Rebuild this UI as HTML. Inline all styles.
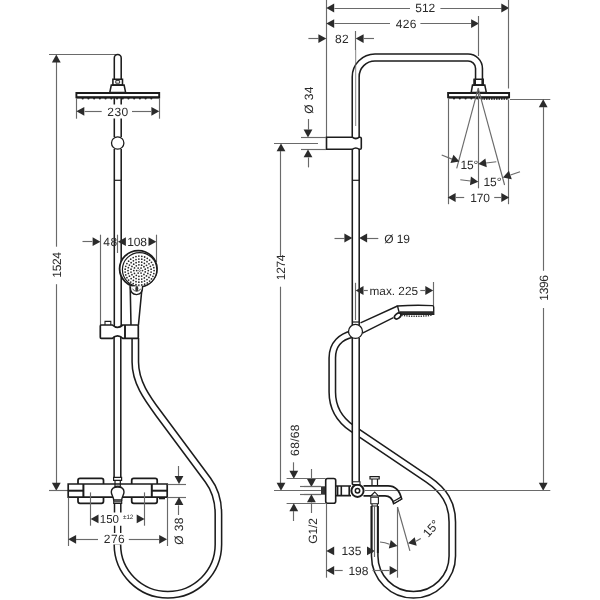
<!DOCTYPE html>
<html><head><meta charset="utf-8"><title>diagram</title>
<style>
html,body{margin:0;padding:0;background:#fff;}
body{width:600px;height:600px;overflow:hidden;}
svg{display:block;font-family:"Liberation Sans",sans-serif;text-rendering:geometricPrecision;}
</style></head><body>
<svg width="600" height="600" viewBox="0 0 600 600" style="filter:grayscale(1) blur(0.35px)">
<rect width="600" height="600" fill="#fff"/>
<path d="M135.3,338 L135.3,362 C135.3,382 146.9,398 158.8,414 L207.9,480 C215.1,489.6 218.4,500 218.4,514 L218.4,544.6 A50.5,50.2 0 0 1 117.4,544.6" stroke="#1c1c1c" stroke-width="8.0" fill="none" stroke-linecap="butt"/>
<path d="M135.3,338 L135.3,362 C135.3,382 146.9,398 158.8,414 L207.9,480 C215.1,489.6 218.4,500 218.4,514 L218.4,544.6 A50.5,50.2 0 0 1 117.4,544.6" stroke="#fff" stroke-width="4.9" fill="none" stroke-linecap="butt"/>
<line x1="49" y1="54.5" x2="116" y2="54.5" stroke="#6a6a6a" stroke-width="1.15" />
<line x1="56.5" y1="62" x2="56.5" y2="246.7" stroke="#6a6a6a" stroke-width="1.15" />
<line x1="56.5" y1="284.2" x2="56.5" y2="483" stroke="#6a6a6a" stroke-width="1.15" />
<polygon points="56.30,54.50 60.70,62.40 51.90,62.40" fill="#2b2b2b"/>
<polygon points="56.30,490.70 51.90,482.80 60.70,482.80" fill="#2b2b2b"/>
<line x1="49" y1="490.5" x2="68" y2="490.5" stroke="#6a6a6a" stroke-width="1.15" />
<text x="61" y="265" font-size="12" letter-spacing="-0.35" text-anchor="middle" fill="#2a2a2a" transform="rotate(-90 61 265)" >1524</text>
<path d="M114.3,79 L114.3,58 A3.45,3.45 0 0 1 121.2,58 L121.2,79" stroke="#1c1c1c" stroke-width="1.55" fill="none" />
<path d="M112.9,79.2 H122.5 V85 H112.9 Z" stroke="#1c1c1c" stroke-width="1.55" fill="none" />
<path d="M115.8,80.6 H119.6 V83.2 H115.8 Z" stroke="#1c1c1c" stroke-width="0.9" fill="none" />
<path d="M111.3,85.1 L124.1,85.1 L125.6,92.4 L109.8,92.4 Z" stroke="#1c1c1c" stroke-width="1.55" fill="none" />
<path d="M76.4,93.05 H159.2 V97.3 H76.4 Z" stroke="#1c1c1c" stroke-width="1.9" fill="#fff" />
<line x1="76.4" y1="97.6" x2="159.2" y2="97.6" stroke="#1c1c1c" stroke-width="1.6" />
<g fill="#222"><circle cx="82.70" cy="98.5" r="1.05"/><circle cx="88.42" cy="98.5" r="1.05"/><circle cx="94.14" cy="98.5" r="1.05"/><circle cx="99.86" cy="98.5" r="1.05"/><circle cx="105.58" cy="98.5" r="1.05"/><circle cx="111.30" cy="98.5" r="1.05"/><circle cx="117.02" cy="98.5" r="1.05"/><circle cx="122.74" cy="98.5" r="1.05"/><circle cx="128.46" cy="98.5" r="1.05"/><circle cx="134.18" cy="98.5" r="1.05"/><circle cx="139.90" cy="98.5" r="1.05"/><circle cx="145.62" cy="98.5" r="1.05"/><circle cx="151.34" cy="98.5" r="1.05"/></g>
<line x1="76.5" y1="98" x2="76.5" y2="118.7" stroke="#6a6a6a" stroke-width="1.15" />
<line x1="159.5" y1="98" x2="159.5" y2="118.7" stroke="#6a6a6a" stroke-width="1.15" />
<polygon points="76.40,111.30 84.30,106.90 84.30,115.70" fill="#2b2b2b"/>
<polygon points="159.30,111.30 151.40,115.70 151.40,106.90" fill="#2b2b2b"/>
<line x1="84.6" y1="111.5" x2="101.7" y2="111.5" stroke="#6a6a6a" stroke-width="1.15" />
<line x1="132" y1="111.5" x2="151" y2="111.5" stroke="#6a6a6a" stroke-width="1.15" />
<text x="117.9" y="115.7" font-size="12" letter-spacing="0.35" text-anchor="middle" fill="#2a2a2a" >230</text>
<line x1="114.3" y1="98" x2="114.3" y2="104.5" stroke="#1c1c1c" stroke-width="1.55" />
<line x1="114.3" y1="118.5" x2="114.3" y2="137" stroke="#1c1c1c" stroke-width="1.55" />
<line x1="114.3" y1="149" x2="114.3" y2="326" stroke="#1c1c1c" stroke-width="1.55" />
<line x1="121.2" y1="98" x2="121.2" y2="104.5" stroke="#1c1c1c" stroke-width="1.55" />
<line x1="121.2" y1="118.5" x2="121.2" y2="137" stroke="#1c1c1c" stroke-width="1.55" />
<line x1="121.2" y1="149" x2="121.2" y2="326" stroke="#1c1c1c" stroke-width="1.55" />
<circle cx="117.7" cy="143" r="6.2" fill="#fff" stroke="#1c1c1c" stroke-width="1.3"/>
<line x1="114.3" y1="180.3" x2="121.2" y2="180.3" stroke="#1c1c1c" stroke-width="1.2" />
<line x1="82.5" y1="241.5" x2="92.3" y2="241.5" stroke="#6a6a6a" stroke-width="1.15" />
<polygon points="100.50,241.70 92.60,246.10 92.60,237.30" fill="#2b2b2b"/>
<line x1="100.5" y1="234.7" x2="100.5" y2="325" stroke="#6a6a6a" stroke-width="1.15" />
<text x="110.4" y="246" font-size="12" letter-spacing="0.35" text-anchor="middle" fill="#2a2a2a" >48</text>
<line x1="117.5" y1="234.7" x2="117.5" y2="253" stroke="#6a6a6a" stroke-width="1.15" />
<polygon points="118.00,241.70 125.90,237.30 125.90,246.10" fill="#2b2b2b"/>
<text x="137" y="246" font-size="12" letter-spacing="-0.1" text-anchor="middle" fill="#2a2a2a" >108</text>
<polygon points="156.40,241.70 148.50,246.10 148.50,237.30" fill="#2b2b2b"/>
<line x1="156.5" y1="234.7" x2="156.5" y2="262" stroke="#6a6a6a" stroke-width="1.15" />
<path d="M130.2,286 L131,325.5 M142.2,286 L138.4,325.5" stroke="#1c1c1c" stroke-width="1.55" fill="none" />
<ellipse cx="138.3" cy="268.8" rx="18.7" ry="18.2" fill="#fff" stroke="#1c1c1c" stroke-width="1.8"/>
<ellipse cx="139.6" cy="269.6" rx="17.2" ry="17" fill="#fff" stroke="#1c1c1c" stroke-width="1.2"/>
<g fill="#2b2b2b"><circle cx="142.50" cy="270.60" r="0.88"/><circle cx="141.05" cy="273.11" r="0.88"/><circle cx="138.15" cy="273.11" r="0.88"/><circle cx="136.70" cy="270.60" r="0.88"/><circle cx="138.15" cy="268.09" r="0.88"/><circle cx="141.05" cy="268.09" r="0.88"/><circle cx="145.23" cy="271.99" r="0.88"/><circle cx="143.94" cy="274.45" r="0.88"/><circle cx="141.66" cy="276.02" r="0.88"/><circle cx="138.90" cy="276.36" r="0.88"/><circle cx="136.31" cy="275.37" r="0.88"/><circle cx="134.46" cy="273.30" r="0.88"/><circle cx="133.80" cy="270.60" r="0.88"/><circle cx="134.46" cy="267.90" r="0.88"/><circle cx="136.31" cy="265.83" r="0.88"/><circle cx="138.90" cy="264.84" r="0.88"/><circle cx="141.66" cy="265.18" r="0.88"/><circle cx="143.94" cy="266.75" r="0.88"/><circle cx="145.23" cy="269.21" r="0.88"/><circle cx="148.30" cy="270.60" r="0.88"/><circle cx="147.83" cy="273.42" r="0.88"/><circle cx="146.47" cy="275.94" r="0.88"/><circle cx="144.36" cy="277.88" r="0.88"/><circle cx="141.74" cy="279.03" r="0.88"/><circle cx="138.88" cy="279.27" r="0.88"/><circle cx="136.11" cy="278.57" r="0.88"/><circle cx="133.71" cy="277.00" r="0.88"/><circle cx="131.95" cy="274.74" r="0.88"/><circle cx="131.02" cy="272.03" r="0.88"/><circle cx="131.02" cy="269.17" r="0.88"/><circle cx="131.95" cy="266.46" r="0.88"/><circle cx="133.71" cy="264.20" r="0.88"/><circle cx="136.11" cy="262.63" r="0.88"/><circle cx="138.88" cy="261.93" r="0.88"/><circle cx="141.74" cy="262.17" r="0.88"/><circle cx="144.36" cy="263.32" r="0.88"/><circle cx="146.47" cy="265.26" r="0.88"/><circle cx="147.83" cy="267.78" r="0.88"/><circle cx="151.11" cy="272.05" r="0.88"/><circle cx="150.39" cy="274.87" r="0.88"/><circle cx="148.98" cy="277.42" r="0.88"/><circle cx="146.99" cy="279.54" r="0.88"/><circle cx="144.54" cy="281.10" r="0.88"/><circle cx="141.77" cy="281.99" r="0.88"/><circle cx="138.87" cy="282.18" r="0.88"/><circle cx="136.02" cy="281.63" r="0.88"/><circle cx="133.38" cy="280.39" r="0.88"/><circle cx="131.14" cy="278.54" r="0.88"/><circle cx="129.43" cy="276.19" r="0.88"/><circle cx="128.36" cy="273.48" r="0.88"/><circle cx="128.00" cy="270.60" r="0.88"/><circle cx="128.36" cy="267.72" r="0.88"/><circle cx="129.43" cy="265.01" r="0.88"/><circle cx="131.14" cy="262.66" r="0.88"/><circle cx="133.38" cy="260.81" r="0.88"/><circle cx="136.02" cy="259.57" r="0.88"/><circle cx="138.87" cy="259.02" r="0.88"/><circle cx="141.77" cy="259.21" r="0.88"/><circle cx="144.54" cy="260.10" r="0.88"/><circle cx="146.99" cy="261.66" r="0.88"/><circle cx="148.98" cy="263.78" r="0.88"/><circle cx="150.39" cy="266.33" r="0.88"/><circle cx="151.11" cy="269.15" r="0.88"/><circle cx="154.10" cy="270.60" r="0.88"/><circle cx="153.80" cy="273.52" r="0.88"/><circle cx="152.92" cy="276.32" r="0.88"/><circle cx="151.50" cy="278.88" r="0.88"/><circle cx="149.59" cy="281.11" r="0.88"/><circle cx="147.27" cy="282.91" r="0.88"/><circle cx="144.64" cy="284.20" r="0.88"/><circle cx="141.80" cy="284.93" r="0.88"/><circle cx="138.87" cy="285.08" r="0.88"/><circle cx="135.97" cy="284.64" r="0.88"/><circle cx="133.21" cy="283.62" r="0.88"/><circle cx="130.72" cy="282.07" r="0.88"/><circle cx="128.60" cy="280.04" r="0.88"/><circle cx="126.92" cy="277.64" r="0.88"/><circle cx="125.76" cy="274.94" r="0.88"/><circle cx="125.17" cy="272.07" r="0.88"/><circle cx="125.17" cy="269.13" r="0.88"/><circle cx="125.76" cy="266.26" r="0.88"/><circle cx="126.92" cy="263.56" r="0.88"/><circle cx="128.60" cy="261.16" r="0.88"/><circle cx="130.72" cy="259.13" r="0.88"/><circle cx="133.21" cy="257.58" r="0.88"/><circle cx="135.97" cy="256.56" r="0.88"/><circle cx="138.87" cy="256.12" r="0.88"/><circle cx="141.80" cy="256.27" r="0.88"/><circle cx="144.64" cy="257.00" r="0.88"/><circle cx="147.27" cy="258.29" r="0.88"/><circle cx="149.59" cy="260.09" r="0.88"/><circle cx="151.50" cy="262.32" r="0.88"/><circle cx="152.92" cy="264.88" r="0.88"/><circle cx="153.80" cy="267.68" r="0.88"/></g>
<circle cx="139.6" cy="270.6" r="0.9" fill="none" stroke="#333" stroke-width="0.6"/>
<path d="M130.3,286.5 Q130.2,294.3 136.6,294.6 Q142.9,294.3 142.6,286" stroke="#1c1c1c" stroke-width="1.4" fill="#fff" />
<ellipse cx="136.8" cy="288.8" rx="1.5" ry="2.8" fill="#333"/>
<path d="M132.5,289 Q136.5,293.5 140.8,289" stroke="#444" stroke-width="1.0" fill="none" />
<path d="M101.3,325 H112.3 Q117.5,329.8 122.8,325 H137.3 Q138.3,325 138.3,326 V337.3 Q138.3,338.3 137.3,338.3 H122.8 Q117.5,333.6 112.3,338.3 H101.3 Q100.3,338.3 100.3,337.3 V326 Q100.3,325 101.3,325 Z" stroke="#1c1c1c" stroke-width="1.7" fill="#fff" />
<line x1="125" y1="325" x2="125" y2="338.3" stroke="#1c1c1c" stroke-width="1.9" />
<path d="M105,325 V321.4 H110.8 V325" stroke="#1c1c1c" stroke-width="1.1" fill="none" />
<line x1="114.1" y1="336.5" x2="114.1" y2="477.5" stroke="#1c1c1c" stroke-width="1.55" />
<line x1="120.8" y1="336.5" x2="120.8" y2="477.5" stroke="#1c1c1c" stroke-width="1.55" />
<path d="M80,478.4 H101.5 Q103.5,478.4 103.5,480.4 V501.3 Q103.5,503.3 101.5,503.3 H80 Q78,503.3 78,501.3 V480.4 Q78,478.4 80,478.4 Z" stroke="#1c1c1c" stroke-width="1.75" fill="#fff" />
<path d="M133.7,478.4 H155.2 Q157.2,478.4 157.2,480.4 V501.3 Q157.2,503.3 155.2,503.3 H133.7 Q131.7,503.3 131.7,501.3 V480.4 Q131.7,478.4 133.7,478.4 Z" stroke="#1c1c1c" stroke-width="1.75" fill="#fff" />
<path d="M68.2,484 H167.2 V497.1 H68.2 Z" stroke="#1c1c1c" stroke-width="1.7" fill="#fff" />
<line x1="83.4" y1="484" x2="83.4" y2="497.1" stroke="#1c1c1c" stroke-width="2.0" />
<line x1="151.8" y1="484" x2="151.8" y2="497.1" stroke="#1c1c1c" stroke-width="2.0" />
<line x1="68.2" y1="490.7" x2="83.4" y2="490.7" stroke="#1c1c1c" stroke-width="2.0" />
<line x1="151.8" y1="490.7" x2="167.2" y2="490.7" stroke="#1c1c1c" stroke-width="2.0" />
<line x1="159" y1="498.6" x2="165" y2="498.6" stroke="#1c1c1c" stroke-width="1.4" />
<path d="M113.6,477.3 H121.6 V480.3 H113.6 Z" stroke="#1c1c1c" stroke-width="1.2" fill="#fff" />
<path d="M115,480.3 V486 M120.3,480.3 V486" stroke="#1c1c1c" stroke-width="1.2" fill="none" />
<path d="M114,487.3 Q117.7,485 121.4,487.3" stroke="#1c1c1c" stroke-width="1.2" fill="none" />
<path d="M117.7,487 C113.5,487 111.3,489 111.3,492 C111.3,495 113.7,497 113.7,500 H121.7 C121.7,497 124,495 124,492 C124,489 122,487 117.7,487 Z" stroke="#1c1c1c" stroke-width="1.4" fill="#fff" />
<path d="M113.7,500 V503.4 H121.7 V500 M113.7,501.8 H121.7" stroke="#1c1c1c" stroke-width="1.1" fill="none" />
<path d="M114.5,503.4 V512.6 M120.8,503.4 V512.6" stroke="#1c1c1c" stroke-width="1.5" fill="none" />
<path d="M114.6,525.8 V533 M120.7,525.8 V533" stroke="#1c1c1c" stroke-width="1.4" fill="none" />
<line x1="90.5" y1="492.4" x2="90.5" y2="525.7" stroke="#6a6a6a" stroke-width="1.15" />
<line x1="144.5" y1="492.4" x2="144.5" y2="525.7" stroke="#6a6a6a" stroke-width="1.15" />
<polygon points="90.60,518.90 98.50,514.50 98.50,523.30" fill="#2b2b2b"/>
<polygon points="144.60,518.90 136.70,523.30 136.70,514.50" fill="#2b2b2b"/>
<text x="109.3" y="523" font-size="11.5" letter-spacing="-0.1" text-anchor="middle" fill="#2a2a2a" >150</text>
<text x="128.2" y="519.3" font-size="6.3" letter-spacing="-0.1" text-anchor="middle" fill="#2a2a2a" >±12</text>
<line x1="68.5" y1="497.5" x2="68.5" y2="546" stroke="#6a6a6a" stroke-width="1.15" />
<line x1="167.5" y1="497.5" x2="167.5" y2="546" stroke="#6a6a6a" stroke-width="1.15" />
<polygon points="68.20,539.30 76.10,534.90 76.10,543.70" fill="#2b2b2b"/>
<polygon points="167.10,539.30 159.20,543.70 159.20,534.90" fill="#2b2b2b"/>
<line x1="76" y1="539.5" x2="98" y2="539.5" stroke="#6a6a6a" stroke-width="1.15" />
<line x1="128.8" y1="539.5" x2="159" y2="539.5" stroke="#6a6a6a" stroke-width="1.15" />
<text x="114.4" y="543.3" font-size="12" letter-spacing="0.35" text-anchor="middle" fill="#2a2a2a" >276</text>
<line x1="167.5" y1="484.5" x2="186" y2="484.5" stroke="#6a6a6a" stroke-width="1.15" />
<line x1="167.5" y1="497.5" x2="186" y2="497.5" stroke="#6a6a6a" stroke-width="1.15" />
<line x1="178.5" y1="466" x2="178.5" y2="476" stroke="#6a6a6a" stroke-width="1.15" />
<polygon points="179.00,484.00 174.60,476.10 183.40,476.10" fill="#2b2b2b"/>
<polygon points="179.00,497.10 183.40,505.00 174.60,505.00" fill="#2b2b2b"/>
<line x1="178.5" y1="505.3" x2="178.5" y2="515" stroke="#6a6a6a" stroke-width="1.15" />
<text x="183.3" y="531" font-size="12" letter-spacing="0.35" text-anchor="middle" fill="#2a2a2a" transform="rotate(-90 183.3 531)" >Ø 38</text>
<line x1="326.5" y1="0" x2="326.5" y2="137" stroke="#6a6a6a" stroke-width="1.15" />
<polygon points="326.30,8.00 334.20,3.60 334.20,12.40" fill="#2b2b2b"/>
<line x1="334.4" y1="8.5" x2="410" y2="8.5" stroke="#6a6a6a" stroke-width="1.15" />
<text x="425.2" y="12.2" font-size="12" letter-spacing="-0.1" text-anchor="middle" fill="#2a2a2a" >512</text>
<line x1="440.4" y1="8.5" x2="501.5" y2="8.5" stroke="#6a6a6a" stroke-width="1.15" />
<polygon points="509.20,8.00 501.30,12.40 501.30,3.60" fill="#2b2b2b"/>
<line x1="508.5" y1="0" x2="508.5" y2="88.5" stroke="#6a6a6a" stroke-width="1.15" />
<polygon points="326.30,23.60 334.20,19.20 334.20,28.00" fill="#2b2b2b"/>
<line x1="334.4" y1="23.5" x2="390" y2="23.5" stroke="#6a6a6a" stroke-width="1.15" />
<text x="406.3" y="27.8" font-size="12" letter-spacing="0.35" text-anchor="middle" fill="#2a2a2a" >426</text>
<line x1="420.4" y1="23.5" x2="471" y2="23.5" stroke="#6a6a6a" stroke-width="1.15" />
<polygon points="479.00,23.60 471.10,28.00 471.10,19.20" fill="#2b2b2b"/>
<line x1="478.5" y1="16" x2="478.5" y2="56" stroke="#6a6a6a" stroke-width="1.15" />
<line x1="308.4" y1="38.5" x2="318.4" y2="38.5" stroke="#6a6a6a" stroke-width="1.15" />
<polygon points="326.30,38.60 318.40,43.00 318.40,34.20" fill="#2b2b2b"/>
<text x="342" y="43" font-size="12" letter-spacing="0.35" text-anchor="middle" fill="#2a2a2a" >82</text>
<polygon points="355.70,38.60 363.60,34.20 363.60,43.00" fill="#2b2b2b"/>
<line x1="363.6" y1="38.5" x2="374" y2="38.5" stroke="#6a6a6a" stroke-width="1.15" />
<line x1="355.5" y1="31" x2="355.5" y2="50" stroke="#6a6a6a" stroke-width="1.15" />
<path d="M352,334.2 C342,336.5 332.3,343.5 332.3,358 L332.3,392 C332.3,408 340,420 352,428.3 L428,479.5 C444,490.5 452.3,503 452.3,522 L452.3,556 A38.8,38.8 0 0 1 374.7,556 L374.7,506" stroke="#1c1c1c" stroke-width="8.0" fill="none" stroke-linecap="butt"/>
<path d="M352,334.2 C342,336.5 332.3,343.5 332.3,358 L332.3,392 C332.3,408 340,420 352,428.3 L428,479.5 C444,490.5 452.3,503 452.3,522 L452.3,556 A38.8,38.8 0 0 1 374.7,556 L374.7,506" stroke="#fff" stroke-width="4.9" fill="none" stroke-linecap="butt"/>
<path d="M355.7,137.5 L355.7,77 A19.3,19.3 0 0 1 375,57.5 L468,57.5 A11,11 0 0 1 479,68.5 L479,79" stroke="#1c1c1c" stroke-width="8.45" fill="none" stroke-linecap="butt"/>
<path d="M355.7,137.5 L355.7,77 A19.3,19.3 0 0 1 375,57.5 L468,57.5 A11,11 0 0 1 479,68.5 L479,79" stroke="#fff" stroke-width="5.35" fill="none" stroke-linecap="butt"/>
<line x1="355.7" y1="50" x2="355.7" y2="126" stroke="#666" stroke-width="0.8" />
<path d="M474.2,79.2 H483.2 V85 H474.2 Z" stroke="#1c1c1c" stroke-width="1.55" fill="#fff" />
<rect x="473.6" y="79" width="2.4" height="6" fill="#222"/><rect x="481.4" y="79" width="2.4" height="6" fill="#222"/>
<path d="M472.5,85.1 L484.8,85.1 L486.3,92.4 L471.2,92.4 Z" stroke="#1c1c1c" stroke-width="1.55" fill="#fff" />
<path d="M448.1,93.05 H509.1 V97.3 H448.1 Z" stroke="#1c1c1c" stroke-width="1.9" fill="#fff" />
<line x1="448.1" y1="97.6" x2="509.1" y2="97.6" stroke="#1c1c1c" stroke-width="1.6" />
<g fill="#222"><circle cx="454.00" cy="98.5" r="1.05"/><circle cx="459.80" cy="98.5" r="1.05"/><circle cx="465.60" cy="98.5" r="1.05"/><circle cx="471.40" cy="98.5" r="1.05"/><circle cx="477.20" cy="98.5" r="1.05"/></g>
<line x1="481" y1="98.9" x2="508.5" y2="98.9" stroke="#222" stroke-width="1.6" stroke-dasharray="1.6 0.9"/>
<line x1="478.5" y1="88.4" x2="478.5" y2="188.3" stroke="#6a6a6a" stroke-width="1.15" />
<path d="M478.3,87.6 L477.3,93 H479.3 Z" fill="#222"/>
<line x1="478.2" y1="88.4" x2="456.7" y2="168.3" stroke="#6a6a6a" stroke-width="1.15" />
<line x1="478.2" y1="88.4" x2="504.6" y2="185" stroke="#6a6a6a" stroke-width="1.15" />
<line x1="448.5" y1="98.3" x2="448.5" y2="204.2" stroke="#6a6a6a" stroke-width="1.15" />
<line x1="508.5" y1="99.5" x2="508.5" y2="204.2" stroke="#6a6a6a" stroke-width="1.15" />
<line x1="441.7" y1="155" x2="452" y2="159.1" stroke="#6a6a6a" stroke-width="1.15" />
<polygon points="459.40,161.60 450.47,163.03 453.48,154.76" fill="#2b2b2b"/>
<text x="460.4" y="168.6" font-size="12" letter-spacing="-0.1" text-anchor="start" fill="#2a2a2a" >15°</text>
<polygon points="478.30,164.10 485.41,158.52 486.79,167.21" fill="#2b2b2b"/>
<line x1="486" y1="163" x2="496.3" y2="161.7" stroke="#6a6a6a" stroke-width="1.15" />
<line x1="460.3" y1="179.7" x2="470.5" y2="181" stroke="#6a6a6a" stroke-width="1.15" />
<polygon points="478.30,181.80 469.98,185.35 470.90,176.60" fill="#2b2b2b"/>
<text x="483.5" y="185.8" font-size="12" letter-spacing="-0.1" text-anchor="start" fill="#2a2a2a" >15°</text>
<polygon points="502.90,177.60 508.94,170.87 511.80,179.19" fill="#2b2b2b"/>
<line x1="510.5" y1="175" x2="520" y2="171.7" stroke="#6a6a6a" stroke-width="1.15" />
<polygon points="447.70,197.50 455.60,193.10 455.60,201.90" fill="#2b2b2b"/>
<line x1="455.8" y1="197.5" x2="464.2" y2="197.5" stroke="#6a6a6a" stroke-width="1.15" />
<text x="480" y="201.7" font-size="12" letter-spacing="-0.1" text-anchor="middle" fill="#2a2a2a" >170</text>
<line x1="494.2" y1="197.5" x2="501" y2="197.5" stroke="#6a6a6a" stroke-width="1.15" />
<polygon points="509.20,197.50 501.30,201.90 501.30,193.10" fill="#2b2b2b"/>
<line x1="510" y1="99.5" x2="550.3" y2="99.5" stroke="#6a6a6a" stroke-width="1.15" />
<polygon points="543.20,99.30 547.60,107.20 538.80,107.20" fill="#2b2b2b"/>
<line x1="543.5" y1="107" x2="543.5" y2="270.8" stroke="#6a6a6a" stroke-width="1.15" />
<line x1="543.5" y1="308" x2="543.5" y2="483" stroke="#6a6a6a" stroke-width="1.15" />
<polygon points="543.20,490.70 538.80,482.80 547.60,482.80" fill="#2b2b2b"/>
<text x="547.8" y="288" font-size="12" letter-spacing="-0.35" text-anchor="middle" fill="#2a2a2a" transform="rotate(-90 547.8 288)" >1396</text>
<line x1="365" y1="490.5" x2="550.3" y2="490.5" stroke="#6a6a6a" stroke-width="1.15" />
<path d="M326.5,137.2 H352.3 Q355.8,140 359.3,137.2 H360 Q361.3,137.2 361.3,138.5 V148 Q361.3,149.3 360,149.3 H359.3 Q355.8,146.6 352.3,149.3 H326.5 Z" stroke="#1c1c1c" stroke-width="1.6" fill="#fff" />
<text x="312.8" y="100" font-size="12" letter-spacing="0.35" text-anchor="middle" fill="#2a2a2a" transform="rotate(-90 312.8 100)" >Ø 34</text>
<line x1="308.5" y1="119" x2="308.5" y2="129.5" stroke="#6a6a6a" stroke-width="1.15" />
<polygon points="308.00,137.40 303.60,129.50 312.40,129.50" fill="#2b2b2b"/>
<line x1="301" y1="137.5" x2="326" y2="137.5" stroke="#6a6a6a" stroke-width="1.15" />
<line x1="301" y1="149.5" x2="326" y2="149.5" stroke="#6a6a6a" stroke-width="1.15" />
<polygon points="308.00,149.40 312.40,157.30 303.60,157.30" fill="#2b2b2b"/>
<line x1="308.5" y1="157.4" x2="308.5" y2="167.4" stroke="#6a6a6a" stroke-width="1.15" />
<line x1="274" y1="143.5" x2="318" y2="143.5" stroke="#6a6a6a" stroke-width="1.15" />
<polygon points="281.00,143.40 285.40,151.30 276.60,151.30" fill="#2b2b2b"/>
<line x1="280.5" y1="151" x2="280.5" y2="256.5" stroke="#6a6a6a" stroke-width="1.15" />
<line x1="280.5" y1="286.7" x2="280.5" y2="483" stroke="#6a6a6a" stroke-width="1.15" />
<polygon points="281.00,490.70 276.60,482.80 285.40,482.80" fill="#2b2b2b"/>
<text x="285.3" y="267.5" font-size="12" letter-spacing="-0.35" text-anchor="middle" fill="#2a2a2a" transform="rotate(-90 285.3 267.5)" >1274</text>
<line x1="274" y1="490.5" x2="321" y2="490.5" stroke="#6a6a6a" stroke-width="1.15" />
<rect x="352.3" y="338" width="6.9" height="146" fill="#fff"/>
<line x1="352.3" y1="149.4" x2="352.3" y2="325" stroke="#1c1c1c" stroke-width="1.55" />
<line x1="352.3" y1="338" x2="352.3" y2="484.5" stroke="#1c1c1c" stroke-width="1.55" />
<line x1="359.2" y1="149.4" x2="359.2" y2="325" stroke="#1c1c1c" stroke-width="1.55" />
<line x1="359.2" y1="338" x2="359.2" y2="484.5" stroke="#1c1c1c" stroke-width="1.55" />
<line x1="352.3" y1="180.3" x2="359.2" y2="180.3" stroke="#1c1c1c" stroke-width="1.2" />
<line x1="352.3" y1="322" x2="359.2" y2="322" stroke="#1c1c1c" stroke-width="1.2" />
<line x1="334.5" y1="238.5" x2="344.3" y2="238.5" stroke="#6a6a6a" stroke-width="1.15" />
<polygon points="352.30,238.00 344.40,242.40 344.40,233.60" fill="#2b2b2b"/>
<polygon points="359.20,238.00 367.10,233.60 367.10,242.40" fill="#2b2b2b"/>
<line x1="367" y1="238.5" x2="378.3" y2="238.5" stroke="#6a6a6a" stroke-width="1.15" />
<text x="384.2" y="242.6" font-size="12" letter-spacing="-0.1" text-anchor="start" fill="#2a2a2a" >Ø 19</text>
<line x1="355.5" y1="282.8" x2="355.5" y2="320" stroke="#6a6a6a" stroke-width="1.15" />
<polygon points="355.60,290.50 363.50,286.10 363.50,294.90" fill="#2b2b2b"/>
<line x1="363.8" y1="290.5" x2="367.8" y2="290.5" stroke="#6a6a6a" stroke-width="1.15" />
<text x="369.5" y="294.5" font-size="11.8" letter-spacing="0" text-anchor="start" fill="#2a2a2a" >max. 225</text>
<line x1="420.3" y1="290.5" x2="425" y2="290.5" stroke="#6a6a6a" stroke-width="1.15" />
<polygon points="433.20,290.50 425.30,294.90 425.30,286.10" fill="#2b2b2b"/>
<line x1="433.5" y1="282" x2="433.5" y2="306" stroke="#6a6a6a" stroke-width="1.15" />
<path d="M397.5,306 L360.5,322.8 M393.4,317.6 L362.5,333.2" stroke="#1c1c1c" stroke-width="1.4" fill="none" />
<path d="M397.5,306 Q415,304.7 432.4,305.6 Q433.7,305.8 433.7,307 V314.3 H399.6 L397.5,306 Z" stroke="#1c1c1c" stroke-width="1.4" fill="#fff" />
<path d="M399.5,311.3 H433.7 V314.4 H400 Z" fill="#2a2a2a"/>
<path d="M401.5,315.2 Q417,317.6 432.5,315.0" stroke="#333" stroke-width="1.5" fill="none" stroke-dasharray="1.3 1.1"/>
<ellipse cx="397.7" cy="316" rx="3.7" ry="2.3" transform="rotate(-38 397.7 316)" fill="#fff" stroke="#1c1c1c" stroke-width="1.7"/>
<circle cx="355.5" cy="331.4" r="7" fill="#fff" stroke="#1c1c1c" stroke-width="1.3"/>
<line x1="300" y1="486.5" x2="321" y2="486.5" stroke="#6a6a6a" stroke-width="1.15" />
<line x1="300" y1="494.5" x2="321" y2="494.5" stroke="#6a6a6a" stroke-width="1.15" />
<rect x="321" y="486.3" width="4.9" height="8.4" fill="#333"/>
<path d="M327.7,478.5 H333.7 Q335.7,478.5 335.7,480.5 V501.3 Q335.7,503.3 333.7,503.3 H327.7 Q325.7,503.3 325.7,501.3 V480.5 Q325.7,478.5 327.7,478.5 Z" stroke="#1c1c1c" stroke-width="1.6" fill="#fff" />
<path d="M336,486 H351 M336,495.6 H351 M337.6,486 V495.6 M341.3,486 V495.6 M349.2,486 V495.6" stroke="#1c1c1c" stroke-width="1.6" fill="none" />
<path d="M363.5,485.8 H388 C396,485.8 400,492 401.5,498.8 L393.6,503.4 C392.5,499 390,495.8 385,495.8 H378.5 M363.5,495.8 H371" stroke="#1c1c1c" stroke-width="1.8" fill="none" />
<path d="M393.3,501.6 L400.9,497.2 L401.7,499 L394,503.6 Z" stroke="#1c1c1c" stroke-width="1.2" fill="#fff" />
<path d="M370,476.7 H379.2 V479 H370 Z" stroke="#1c1c1c" stroke-width="1.2" fill="#fff" />
<path d="M372,479 V485.8 M377.5,479 V485.8" stroke="#1c1c1c" stroke-width="1.2" fill="none" />
<path d="M370.8,496 L374.7,492 L378.4,496 Z" stroke="#1c1c1c" stroke-width="1.1" fill="#fff" />
<path d="M370.8,497.3 H378.4 V503.7 H370.8 Z M372,503.7 V506 H377.4 V503.7" stroke="#1c1c1c" stroke-width="1.1" fill="#fff" />
<circle cx="357.5" cy="490.8" r="6.1" fill="#fff" stroke="#1c1c1c" stroke-width="2.0"/>
<circle cx="357.5" cy="490.8" r="2.2" fill="#fff" stroke="#1c1c1c" stroke-width="1.5"/>
<path d="M352.6,481.7 H360 V484.6 H352.6 Z" stroke="#1c1c1c" stroke-width="1.1" fill="#fff" />
<text x="299.3" y="440" font-size="12" letter-spacing="0.35" text-anchor="middle" fill="#2a2a2a" transform="rotate(-90 299.3 440)" >68/68</text>
<line x1="293.5" y1="462.3" x2="293.5" y2="471" stroke="#6a6a6a" stroke-width="1.15" />
<polygon points="293.80,478.70 289.40,470.80 298.20,470.80" fill="#2b2b2b"/>
<line x1="286.6" y1="478.5" x2="325.7" y2="478.5" stroke="#6a6a6a" stroke-width="1.15" />
<line x1="286.6" y1="503.5" x2="325.7" y2="503.5" stroke="#6a6a6a" stroke-width="1.15" />
<polygon points="293.80,503.30 298.20,511.20 289.40,511.20" fill="#2b2b2b"/>
<line x1="293.5" y1="511" x2="293.5" y2="521" stroke="#6a6a6a" stroke-width="1.15" />
<line x1="311.5" y1="469" x2="311.5" y2="479" stroke="#6a6a6a" stroke-width="1.15" />
<polygon points="311.40,487.00 307.00,479.10 315.80,479.10" fill="#2b2b2b"/>
<line x1="303.7" y1="486.5" x2="321" y2="486.5" stroke="#6a6a6a" stroke-width="1.15" />
<line x1="303.7" y1="494.5" x2="321" y2="494.5" stroke="#6a6a6a" stroke-width="1.15" />
<polygon points="311.40,494.30 315.80,502.20 307.00,502.20" fill="#2b2b2b"/>
<line x1="311.5" y1="502.5" x2="311.5" y2="513" stroke="#6a6a6a" stroke-width="1.15" />
<text x="316.6" y="531" font-size="12" letter-spacing="-0.1" text-anchor="middle" fill="#2a2a2a" transform="rotate(-90 316.6 531)" >G1/2</text>
<line x1="371.6" y1="506" x2="371.6" y2="553" stroke="#1c1c1c" stroke-width="1.9" />
<line x1="377.8" y1="506" x2="377.8" y2="553" stroke="#1c1c1c" stroke-width="1.9" />
<line x1="326.5" y1="503.3" x2="326.5" y2="577.7" stroke="#6a6a6a" stroke-width="1.15" />
<polygon points="326.30,550.90 334.20,546.50 334.20,555.30" fill="#2b2b2b"/>
<text x="351.4" y="555.2" font-size="12" letter-spacing="-0.1" text-anchor="middle" fill="#2a2a2a" >135</text>
<polygon points="374.90,550.90 367.00,555.30 367.00,546.50" fill="#2b2b2b"/>
<line x1="374.5" y1="506" x2="374.5" y2="557" stroke="#6a6a6a" stroke-width="1.15" />
<polygon points="326.30,570.50 334.20,566.10 334.20,574.90" fill="#2b2b2b"/>
<line x1="334.5" y1="570.5" x2="342.7" y2="570.5" stroke="#6a6a6a" stroke-width="1.15" />
<text x="358.4" y="574.7" font-size="12" letter-spacing="-0.1" text-anchor="middle" fill="#2a2a2a" >198</text>
<line x1="372.5" y1="570.5" x2="389.3" y2="570.5" stroke="#6a6a6a" stroke-width="1.15" />
<polygon points="397.50,570.50 389.60,574.90 389.60,566.10" fill="#2b2b2b"/>
<line x1="397.5" y1="507" x2="397.5" y2="577.7" stroke="#6a6a6a" stroke-width="1.15" />
<line x1="397.5" y1="507" x2="409.9" y2="550.9" stroke="#6a6a6a" stroke-width="1.15" />
<path d="M380,542 Q385,542.5 389.5,544.3" stroke="#6a6a6a" stroke-width="1.15" fill="none" />
<polygon points="397.50,546.00 388.81,548.51 390.79,539.94" fill="#2b2b2b"/>
<polygon points="408.00,543.20 414.71,537.14 416.69,545.71" fill="#2b2b2b"/>
<line x1="416" y1="541.3" x2="420.8" y2="538.5" stroke="#6a6a6a" stroke-width="1.15" />
<text x="434.2" y="531.3" font-size="12" letter-spacing="-0.1" text-anchor="middle" fill="#2a2a2a" transform="rotate(-49 434.2 531.3)" >15°</text>
</svg>
</body></html>
